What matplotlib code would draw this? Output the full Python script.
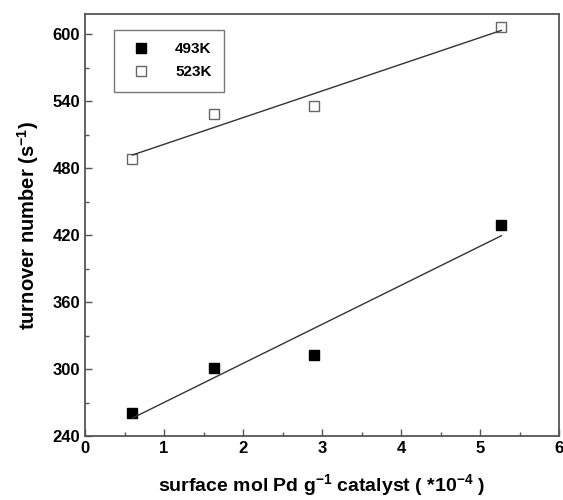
import matplotlib
matplotlib.use("Agg")
import matplotlib.pyplot as plt
import numpy as np
from matplotlib.ticker import MultipleLocator

plt.rcParams["font.family"] = ["Liberation Sans", "DejaVu Sans"]
plt.rcParams["font.weight"] = "bold"
plt.rcParams["axes.labelweight"] = "bold"
plt.rcParams["mathtext.fontset"] = "custom"
plt.rcParams["mathtext.bf"] = "Liberation Sans:bold"
plt.rcParams["mathtext.rm"] = "Liberation Sans:bold"
plt.rcParams["mathtext.default"] = "bf"

AXIS_GRAY = "#555555"

loading = [0.6, 1.63, 2.9, 5.27]
ton_493 = [261, 301, 313, 429]
ton_523 = [488, 528, 536, 606]
series_labels = ["493K", "523K"]

fig = plt.figure(figsize=(5.63, 5.0), dpi=100)
ax = fig.add_axes([0.151, 0.128, 0.842, 0.844])

x = np.array(loading)
for y, label, face in [(ton_493, series_labels[0], "black"), (ton_523, series_labels[1], "white")]:
    ax.plot(x, y, "s", ms=6.5, mfc=face, mec="black" if face == "black" else "#666666",
            mew=1.0, label=label, linestyle="none")
    slope, icpt = np.polyfit(x, y, 1)
    ax.plot([x[0], x[-1]], [icpt + slope * x[0], icpt + slope * x[-1]],
            color="#333333", lw=1.0)

ax.set_xlim(0, 6)
ax.set_ylim(240, 618)
ax.xaxis.set_major_locator(MultipleLocator(1))
ax.xaxis.set_minor_locator(MultipleLocator(0.5))
ax.yaxis.set_major_locator(MultipleLocator(60))
ax.yaxis.set_minor_locator(MultipleLocator(30))
ax.tick_params(which="both", direction="in", color=AXIS_GRAY, labelsize=12, width=1)
ax.tick_params(which="major", length=5)
ax.tick_params(which="minor", length=3)
for lbl in ax.get_xticklabels() + ax.get_yticklabels():
    lbl.set_fontweight("bold")
for spine in ax.spines.values():
    spine.set_color(AXIS_GRAY)
    spine.set_linewidth(1.3)

ax.set_xlabel("surface mol Pd g$^{-1}$ catalyst ( *10$^{-4}$ )", fontsize=14,
              fontweight="bold", labelpad=12)
ax.set_ylabel("turnover number (s$^{-1}$)", fontsize=14.5, fontweight="bold", labelpad=8)

leg = ax.legend(loc="upper left", bbox_to_anchor=(0.045, 0.98),
                fancybox=False, edgecolor=AXIS_GRAY, handletextpad=1.2,
                borderpad=0.8, labelspacing=0.6, prop={"weight": "bold", "size": 11})
leg.get_frame().set_linewidth(1.0)

fig.savefig("out.png", dpi=100, facecolor="white")
